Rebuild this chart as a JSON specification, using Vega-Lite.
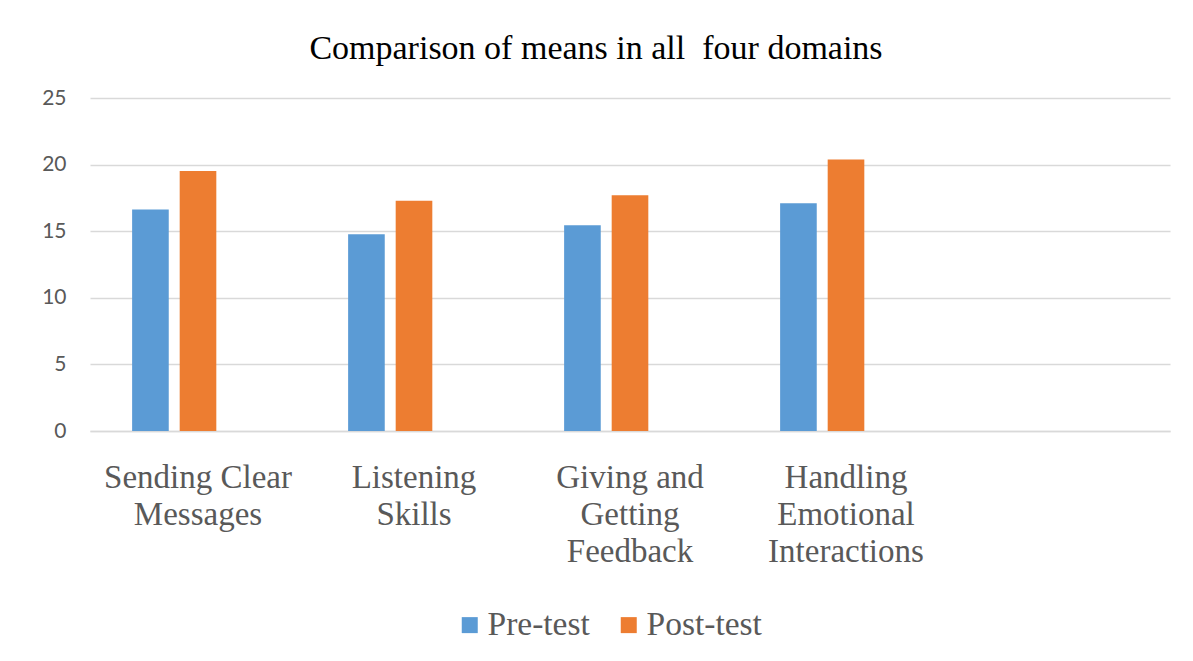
{
  "$schema": "https://vega.github.io/schema/vega-lite/v6.json",
  "autosize": "none",
  "width": 1080,
  "height": 333,
  "padding": {"left": 90, "top": 98, "right": 23, "bottom": 230},
  "background": "white",
  "title": {
    "text": "Comparison of means in all\u00a0 four domains",
    "font": "Liberation Serif",
    "fontSize": 34,
    "fontWeight": "normal",
    "color": "#000000",
    "anchor": "middle",
    "frame": "group",
    "baseline": "alphabetic",
    "offset": 40,
    "dx": -34,
    "dy": 46
  },
  "data": {
    "values": [
      {"domain": "Sending Clear Messages", "series": "Pre-test", "mean": 16.62},
      {"domain": "Sending Clear Messages", "series": "Post-test", "mean": 19.52},
      {"domain": "Listening Skills", "series": "Pre-test", "mean": 14.77},
      {"domain": "Listening Skills", "series": "Post-test", "mean": 17.29},
      {"domain": "Giving and Getting Feedback", "series": "Pre-test", "mean": 15.44},
      {"domain": "Giving and Getting Feedback", "series": "Post-test", "mean": 17.69},
      {"domain": "Handling Emotional Interactions", "series": "Pre-test", "mean": 17.09},
      {"domain": "Handling Emotional Interactions", "series": "Post-test", "mean": 20.39}
    ]
  },
  "mark": {"type": "bar"},
  "encoding": {
    "x": {
      "field": "domain",
      "type": "nominal",
      "sort": null,
      "scale": {
        "domain": ["Sending Clear Messages", "Listening Skills", "Giving and Getting Feedback", "Handling Emotional Interactions", " "],
        "paddingInner": 0.39,
        "paddingOuter": 0.195
      },
      "axis": {
        "title": null,
        "labelAngle": 0,
        "labelFont": "Liberation Serif",
        "labelFontSize": 33,
        "labelColor": "#595959",
        "labelLineHeight": 37,
        "labelPadding": 30,
        "labelLimit": 0,
        "labelBaseline": "top",
        "labelExpr": "datum.label == 'Sending Clear Messages' ? ['Sending Clear', 'Messages'] : datum.label == 'Giving and Getting Feedback' ? ['Giving and', 'Getting', 'Feedback'] : split(datum.label, ' ')",
        "ticks": false,
        "domain": true,
        "domainColor": "#d9d9d9",
        "domainWidth": 1.5,
        "grid": false
      }
    },
    "xOffset": {
      "field": "series",
      "type": "nominal",
      "scale": {"domain": ["Pre-test", "Post-test", "_blank"], "paddingInner": 0.23, "paddingOuter": 0}
    },
    "y": {
      "field": "mean",
      "type": "quantitative",
      "scale": {"domain": [0, 25], "nice": false},
      "axis": {
        "title": null,
        "values": [0, 5, 10, 15, 20, 25],
        "labelFont": "Lato",
        "labelFontSize": 21,
        "labelColor": "#595959",
        "labelPadding": 24,
        "ticks": false,
        "domain": false,
        "grid": true,
        "gridColor": "#d9d9d9",
        "gridWidth": 1.5
      }
    },
    "color": {
      "field": "series",
      "type": "nominal",
      "scale": {"domain": ["Pre-test", "Post-test"], "range": ["#5B9BD5", "#ED7D31"]},
      "legend": {
        "title": null,
        "orient": "none",
        "direction": "horizontal",
        "legendX": 363,
        "legendY": 510,
        "symbolType": "square",
        "symbolSize": 256,
        "symbolStrokeWidth": 0,
        "labelFont": "Liberation Serif",
        "labelFontSize": 33.5,
        "labelColor": "#595959",
        "labelOffset": 1,
        "columnPadding": 22
      }
    }
  },
  "config": {
    "view": {"stroke": null}
  }
}
